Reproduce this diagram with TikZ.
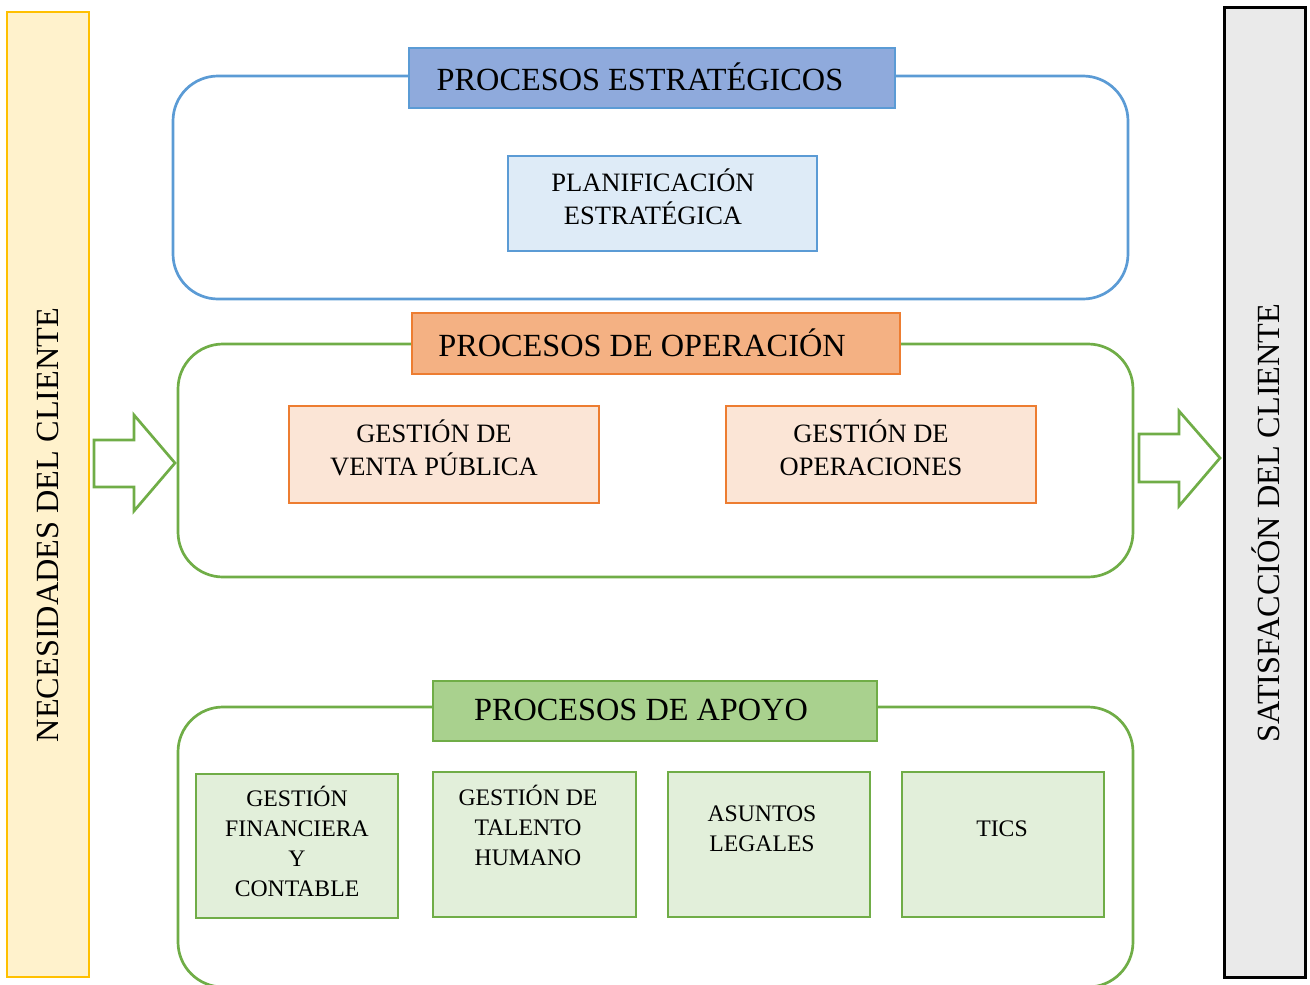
\documentclass[tikz,border=0pt]{standalone}
\usepackage{fontspec}
\setmainfont{Liberation Serif}
\definecolor{yelfill}{HTML}{FFF2CC}
\definecolor{yelline}{HTML}{FFC000}
\definecolor{grayfill}{HTML}{EAEAEA}
\definecolor{blueline}{HTML}{5B9BD5}
\definecolor{bluetitle}{HTML}{8FAADC}
\definecolor{bluebox}{HTML}{DEEBF7}
\definecolor{orgline}{HTML}{ED7D31}
\definecolor{orgtitle}{HTML}{F4B183}
\definecolor{orgbox}{HTML}{FBE5D6}
\definecolor{grnline}{HTML}{70AD47}
\definecolor{grntitle}{HTML}{A9D18E}
\definecolor{grnbox}{HTML}{E2EFDA}
\tikzset{
  every node/.style={inner sep=0pt, outer sep=0pt},
  container/.style={draw, line width=2.7pt, rounded corners=45pt, anchor=north west},
  titlebox/.style={draw, line width=2.5pt, anchor=north west},
  procbox/.style={draw, line width=2.4pt, anchor=north west},
  bigtxt/.style={font=\fontsize{32.3}{38}\selectfont, align=center},
  smalltxt/.style={font=\fontsize{23.7}{30}\selectfont, align=center},
  midtxt/.style={font=\fontsize{26.5}{33}\selectfont, align=center},
  blockarrow/.style={draw=grnline, line width=2.7pt, fill=white, line join=miter},
}
\begin{document}
\begin{tikzpicture}[x=1pt,y=-1pt]
\useasboundingbox (0,0) rectangle (1310,985);
% side bars
\node[draw=yelline, fill=yelfill, line width=2.8pt, anchor=north west, minimum width=82, minimum height=965] (nec) at (7,12) {};
\node[bigtxt, rotate=90] (necT) at (48,525) {NECESIDADES DEL CLIENTE};
\node[draw=black, fill=grayfill, line width=3pt, anchor=north west, minimum width=81, minimum height=970] (sat) at (1224,7) {};
\node[bigtxt, rotate=90] (satT) at (1266,523) {SATISFACCIÓN DEL CLIENTE};
% containers
\node[container, draw=blueline, minimum width=955, minimum height=223] (estC) at (173,76) {};
\node[container, draw=grnline, minimum width=955, minimum height=233] (opC) at (178,344) {};
\node[container, draw=grnline, minimum width=955, minimum height=280] (apC) at (178,707) {};
% title boxes
\node[titlebox, draw=blueline, fill=bluetitle, minimum width=486, minimum height=60] (estT) at (409,48) {};
\node[bigtxt] at (640,77) {PROCESOS ESTRATÉGICOS};
\node[titlebox, draw=orgline, fill=orgtitle, minimum width=488, minimum height=61] (opT) at (412,313) {};
\node[bigtxt] at (642,343) {PROCESOS DE OPERACIÓN};
\node[titlebox, draw=grnline, fill=grntitle, minimum width=444, minimum height=60] (apT) at (433,681) {};
\node[bigtxt] at (641,710) {PROCESOS DE APOYO};
% process boxes
\node[procbox, draw=blueline, fill=bluebox, minimum width=309, minimum height=95] (plan) at (508,156) {};
\node[midtxt] at (653,197) {PLANIFICACIÓN\\ESTRATÉGICA};
\node[procbox, draw=orgline, fill=orgbox, minimum width=310, minimum height=97] (venta) at (289,406) {};
\node[midtxt] at (434,448) {GESTIÓN DE\\VENTA PÚBLICA};
\node[procbox, draw=orgline, fill=orgbox, minimum width=310, minimum height=97] (oper) at (726,406) {};
\node[midtxt] at (871,448) {GESTIÓN DE\\OPERACIONES};
\node[procbox, draw=grnline, fill=grnbox, minimum width=202, minimum height=144] (fin) at (196,774) {};
\node[smalltxt, anchor=north] at (297,786) {GESTIÓN\\FINANCIERA\\Y\\CONTABLE};
\node[procbox, draw=grnline, fill=grnbox, minimum width=203, minimum height=145] (tal) at (433,772) {};
\node[smalltxt, anchor=north] at (528,785) {GESTIÓN DE\\TALENTO\\HUMANO};
\node[procbox, draw=grnline, fill=grnbox, minimum width=202, minimum height=145] (leg) at (668,772) {};
\node[smalltxt, anchor=north] at (762,806) {ASUNTOS\\LEGALES};
\node[procbox, draw=grnline, fill=grnbox, minimum width=202, minimum height=145] (tic) at (902,772) {};
\node[smalltxt] at (1002,829) {TICS};
% block arrows
\draw[blockarrow] (94,440) -- (134,440) -- (134,415) -- (175,463) -- (134,511) -- (134,487) -- (94,487) -- cycle;
\draw[blockarrow] (1139,434) -- (1179,434) -- (1179,411) -- (1220,458) -- (1179,506) -- (1179,482) -- (1139,482) -- cycle;
\end{tikzpicture}
\end{document}
